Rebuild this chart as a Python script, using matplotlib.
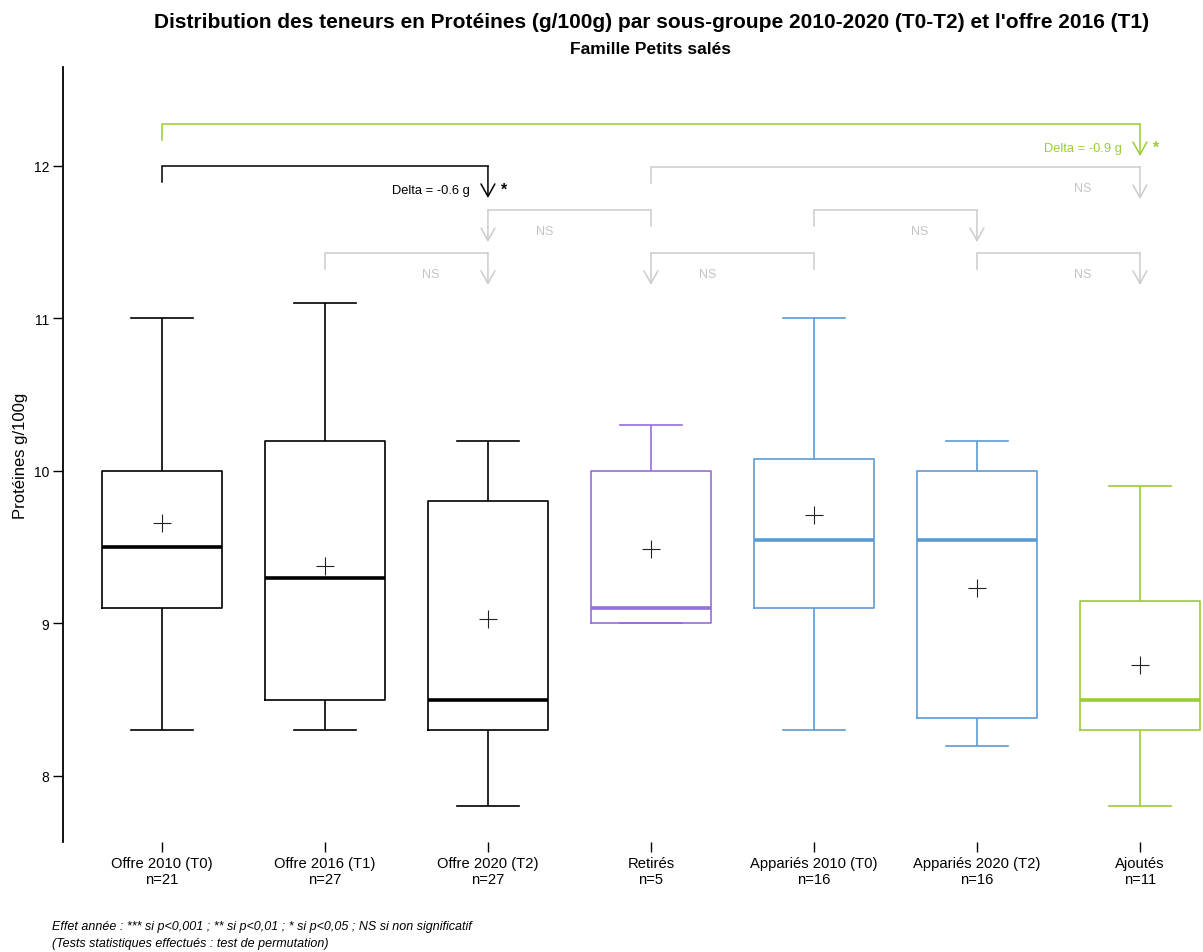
import matplotlib
matplotlib.use("Agg")
import matplotlib.pyplot as plt

plt.rcParams['font.family'] = ['Liberation Sans', 'DejaVu Sans']

# ---------------- data ----------------
categories = ["Offre 2010 (T0)", "Offre 2016 (T1)", "Offre 2020 (T2)", "Retirés",
              "Appariés 2010 (T0)", "Appariés 2020 (T2)", "Ajoutés"]
counts = [21, 27, 27, 5, 16, 16, 11]
whislo = [8.3, 8.3, 7.8, 9.0, 8.3, 8.2, 7.8]
q1 = [9.1, 8.5, 8.3, 9.0, 9.1, 8.38, 8.3]
med = [9.5, 9.3, 8.5, 9.1, 9.55, 9.55, 8.5]
q3 = [10.0, 10.2, 9.8, 10.0, 10.08, 10.0, 9.15]
whishi = [11.0, 11.1, 10.2, 10.3, 11.0, 10.2, 9.9]
means = [9.66, 9.38, 9.03, 9.49, 9.71, 9.23, 8.73]
box_colors = ["black", "black", "black", "#9370DB", "#5B9BD5", "#5B9BD5", "#9ACD32"]

# comparisons: (start index, arrow index, label, star, colour, level)
comparisons = [
    (0, 2, "Delta = -0.6 g", "*", "black", 12.0),
    (0, 6, "Delta = -0.9 g", "*", "#9ACD32", 12.275),
    (3, 6, "NS", "", "#CCCCCC", 11.993),
    (3, 2, "NS", "", "#CCCCCC", 11.711),
    (4, 5, "NS", "", "#CCCCCC", 11.711),
    (1, 2, "NS", "", "#CCCCCC", 11.43),
    (4, 3, "NS", "", "#CCCCCC", 11.43),
    (5, 6, "NS", "", "#CCCCCC", 11.43),
]

title = "Distribution des teneurs en Protéines (g/100g) par sous-groupe 2010-2020 (T0-T2) et l'offre 2016 (T1)"
subtitle = "Famille Petits salés"
ylabel = "Protéines g/100g"
footnotes = ["Effet année : *** si p<0,001 ; ** si p<0,01 ; * si p<0,05 ; NS si non significatif",
             "(Tests statistiques effectués : test de permutation)"]
yticks = [8, 9, 10, 11, 12]

# ---------------- figure ----------------
W, H = 1203, 953
fig = plt.figure(figsize=(W / 100, H / 100), dpi=100)
ax = fig.add_axes([63 / W, 1 - 843 / H, (W - 63) / W, (843 - 68) / H])

positions = list(range(1, len(categories) + 1))
for i, pos in enumerate(positions):
    stats = [dict(whislo=whislo[i], q1=q1[i], med=med[i], q3=q3[i], whishi=whishi[i],
                  mean=means[i], fliers=[], label=categories[i])]
    c = box_colors[i]
    ax.bxp(stats, positions=[pos], widths=0.74, capwidths=0.38,
           showmeans=True, showfliers=False, manage_ticks=False,
           boxprops=dict(color=c, lw=1.2),
           whiskerprops=dict(color=c, lw=1.2, solid_capstyle='butt'),
           capprops=dict(color=c, lw=1.2),
           medianprops=dict(color=c, lw=2.6, solid_capstyle='butt'),
           meanprops=dict(marker='+', markersize=13, markeredgecolor='#222222',
                          markeredgewidth=0.8, linestyle='none'))

# comparison brackets
leg = 0.105
arrow_len = 0.21
for s, a, lab, star, col, lvl in comparisons:
    xs, xa = positions[s], positions[a]
    ax.plot([xs, xs, xa], [lvl - leg, lvl, lvl], color=col, lw=1.1,
            solid_joinstyle='miter', clip_on=False)
    ax.annotate("", xy=(xa, lvl - arrow_len), xytext=(xa, lvl),
                arrowprops=dict(arrowstyle='->,head_length=0.9,head_width=0.5',
                                color=col, lw=1.1, shrinkA=0, shrinkB=0),
                annotation_clip=False)
    direction = 1 if xs > xa else -1
    if lab == "NS":
        ax.text(xa + direction * 0.35, lvl - 0.14, lab, color="#C4C4C4",
                fontsize=9, ha='center', va='center')
    else:
        ax.text(xa - 0.11, lvl - 0.16, lab, color=col, fontsize=9.3,
                ha='right', va='center')
        ax.text(xa + 0.1, lvl - 0.155, star, color=col, fontsize=11.5,
                ha='center', va='center', fontweight='bold')

ax.set_xlim(0.393, 0.393 + (W - 63) / 163)
ax.set_ylim(8 - (843 - 777) / 152.5, 12 + (167 - 68) / 152.5)

for sp in ['top', 'right', 'bottom']:
    ax.spines[sp].set_visible(False)
ax.spines['left'].set_linewidth(1.3)

ax.set_yticks(yticks)
ax.set_yticklabels([str(t) for t in yticks])
ax.tick_params(axis='y', length=7, width=1.0, labelsize=10, pad=3)
ax.set_xticks(positions)
ax.set_xticklabels([f"{c}\nn={n}" for c, n in zip(categories, counts)],
                   linespacing=1.2)
ax.tick_params(axis='x', length=7, width=1.0, labelsize=10.6, pad=3)
ax.set_ylabel(ylabel, fontsize=12, labelpad=4)

fig.text(652 / W, 1 - 22 / H, title, ha='center', va='center',
         fontsize=15, fontweight='bold')
fig.text(650 / W, 1 - 50 / H, subtitle, ha='center', va='center',
         fontsize=12.5, fontweight='bold')
fig.text(52 / W, 1 - 927 / H, footnotes[0], ha='left', va='center',
         fontsize=9, style='italic')
fig.text(52 / W, 1 - 944 / H, footnotes[1], ha='left', va='center',
         fontsize=9, style='italic')

fig.savefig("out.png", dpi=100)
